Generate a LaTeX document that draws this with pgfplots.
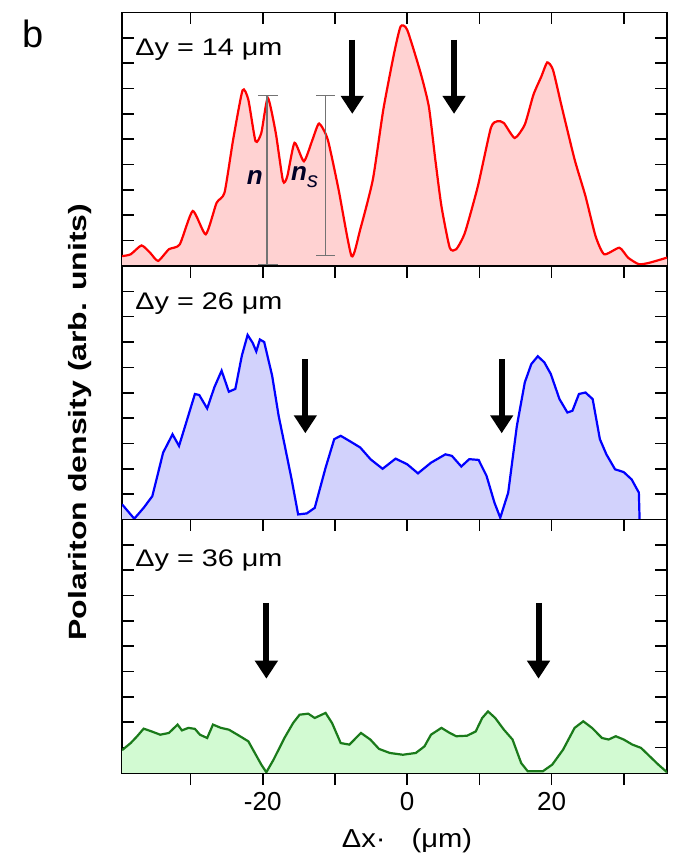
\documentclass[border=0pt]{standalone}
\usepackage{pgfplots}
\pgfplotsset{compat=1.18}
\usepackage{pgfplotstable}
\usepackage{fontspec}
\setmainfont{Liberation Sans}
\usetikzlibrary{arrows.meta}

\definecolor{pinkfill}{RGB}{255,210,210}
\definecolor{bluefill}{RGB}{210,210,252}
\definecolor{greenfill}{RGB}{210,250,210}
\definecolor{darkgreen}{RGB}{26,122,26}

\pgfplotstableread{
x y
-39.5 0.39
-38.3 0.46
-36.8 0.81
-35.6 0.52
-34.5 0.20
-33.0 0.66
-31.5 0.85
-29.7 2.17
-27.9 1.25
-26.4 2.49
-25.3 2.89
-24.1 4.99
-22.8 6.93
-22.0 6.56
-21.0 4.92
-20.2 5.25
-19.3 6.63
-18.2 5.25
-17.2 3.35
-16.6 3.54
-15.6 4.86
-14.3 4.13
-13.1 4.99
-12.2 5.62
-11.0 4.99
-9.5 3.02
-7.7 0.39
-6.5 1.44
-4.75 3.41
-3.3 6.17
-1.8 8.40
-0.9 9.45
0.0 9.32
1.8 7.68
3.0 6.30
3.9 4.20
4.75 2.36
5.9 0.72
6.8 0.66
8.0 1.31
9.8 3.15
11.6 5.45
12.5 5.71
13.4 5.64
14.9 5.05
16.3 5.58
17.5 6.76
18.6 7.48
19.4 8.03
20.2 7.74
21.4 6.30
23.2 4.20
24.7 2.76
26.1 1.18
27.3 0.46
29.4 0.72
30.6 0.33
32.1 0.07
33.6 0.13
36.0 0.33
}\redData

\pgfplotstableread{
x y
-39.5 0.60
-37.8 0.03
-36.5 0.46
-35.3 0.92
-33.8 2.64
-32.5 3.36
-31.6 2.90
-30.6 3.83
-29.4 4.95
-28.8 4.91
-27.7 4.38
-26.7 5.22
-25.7 5.87
-24.7 5.04
-23.8 5.15
-22.9 6.46
-22.1 7.28
-21.4 6.97
-20.9 6.63
-20.4 7.10
-19.8 7.00
-18.7 5.67
-17.8 4.09
-16.9 2.84
-16.0 1.58
-15.1 0.20
-13.9 0.24
-12.8 0.46
-11.3 2.04
-10.1 3.17
-9.2 3.30
-8.0 3.10
-6.5 2.84
-5.05 2.37
-3.4 2.00
-1.6 2.40
0.0 2.18
1.5 1.82
3.3 2.24
5.3 2.57
6.2 2.51
7.5 2.09
8.6 2.38
9.9 2.35
11.0 1.72
12.1 0.66
12.9 0.07
14.0 1.06
15.2 3.69
16.3 5.41
17.2 6.13
18.1 6.44
19.0 6.20
19.9 5.74
21.1 4.75
22.2 4.22
22.9 4.29
23.8 4.95
24.7 5.01
25.7 4.75
26.7 3.17
27.6 2.57
28.8 1.98
30.0 1.87
31.1 1.58
32.1 1.06
32.2 0.00
}\blueData

\pgfplotstableread{
x y
-39.5 0.90
-38.3 1.18
-37.4 1.45
-36.5 1.75
-35.4 1.64
-34.2 1.51
-33.0 1.58
-31.8 1.91
-31.2 1.68
-30.3 1.78
-29.4 1.74
-28.7 1.51
-27.7 1.38
-26.9 1.91
-25.8 1.78
-24.7 1.71
-23.5 1.51
-22.0 1.25
-21.1 0.79
-20.2 0.33
-19.5 0.03
-18.5 0.53
-17.0 1.38
-15.8 1.97
-14.9 2.30
-13.7 2.34
-12.8 2.17
-11.3 2.37
-10.4 1.97
-9.2 1.18
-8.0 1.12
-6.4 1.58
-5.1 1.32
-3.9 0.95
-2.4 0.79
-0.6 0.72
1.2 0.79
2.4 1.05
3.3 1.51
4.75 1.78
5.9 1.58
6.8 1.45
8.3 1.47
9.5 1.64
10.4 2.17
11.2 2.43
12.2 2.17
13.4 1.71
14.6 1.32
15.8 0.39
16.7 0.07
18.8 0.07
20.1 0.33
21.6 0.92
23.2 1.78
24.4 2.04
25.6 1.78
27.0 1.38
27.9 1.32
28.9 1.45
30.0 1.32
31.2 1.12
32.4 0.99
33.6 0.66
34.8 0.33
36.0 0.03
}\greenData

\pgfplotsset{
  panel/.style={
    scale only axis, width=272.5pt, height=126.75pt,
    anchor=south west,
    xmin=-39.5, xmax=36, ymin=0, ymax=10,
    xtick={-30,-20,...,30}, ytick={1,2,...,9},
    xticklabels={}, yticklabels={},
    tick align=inside, xtick pos=right,
    major tick length=6pt,
    axis line style={line width=0.8pt},
    tick style={line width=0.8pt, black},
    clip=true,
  },
}
\tikzset{
  myarrow/.style={line width=3pt, -{Triangle[width=11pt,length=9pt]}},
  errbar/.style={line width=0.8pt, black!55},
}

\newcommand{\lbl}{\fontsize{12}{14}\selectfont}
\newcommand{\dy}[1]{\scalebox{1.2}[1]{Δy = #1 μm}}

\begin{document}
\begin{tikzpicture}[x=1pt,y=1pt]
% panel 1
\begin{axis}[panel, at={(61pt,294pt)}]
  \addplot[draw=none, fill=pinkfill, forget plot, smooth, tension=0.35] table {\redData} \closedcycle;
  \addplot[red, line width=1.1pt, smooth, tension=0.35] table {\redData};
  \draw[errbar] (axis cs:-19.4,0) -- (axis cs:-19.4,6.72);
  \draw[errbar] (axis cs:-20.6,6.72) -- (axis cs:-17.9,6.72);
  \draw[errbar] (axis cs:-20.6,0.05) -- (axis cs:-17.9,0.05);
  \draw[errbar] (axis cs:-11.3,0.42) -- (axis cs:-11.3,6.72);
  \draw[errbar] (axis cs:-12.6,6.72) -- (axis cs:-10.0,6.72);
  \draw[errbar] (axis cs:-12.6,0.42) -- (axis cs:-10.0,0.42);
  \node[font=\fontsize{13}{14}\selectfont\bfseries\itshape, text=black!85!blue] at (axis cs:-21.1,3.5) {n};
  \node[font=\fontsize{13}{14}\selectfont\bfseries\itshape, text=black!85!blue] at (axis cs:-14.2,3.5) {n\raisebox{-0.5ex}{\fontsize{11}{11}\selectfont\mdseries s}};
  \draw[myarrow] (axis cs:-7.6,8.92) -- (axis cs:-7.6,6.0);
  \draw[myarrow] (axis cs:6.5,8.92) -- (axis cs:6.5,6.0);
  \node[anchor=base west, font=\lbl, inner sep=0pt] at (axis cs:-37.7,8.32) {\dy{14}};
\end{axis}
% panel 2
\begin{axis}[panel, at={(61pt,167.25pt)}]
  \addplot[draw=none, fill=bluefill, forget plot] table {\blueData} \closedcycle;
  \addplot[blue, line width=1.1pt] table {\blueData};
  \draw[myarrow] (axis cs:-14.1,6.33) -- (axis cs:-14.1,3.4);
  \draw[myarrow] (axis cs:13.1,6.33) -- (axis cs:13.1,3.4);
  \node[anchor=base west, font=\lbl, inner sep=0pt] at (axis cs:-37.7,8.3) {\dy{26}};
\end{axis}
% panel 3
\begin{axis}[panel, at={(61pt,40.5pt)}]
  \addplot[draw=none, fill=greenfill, forget plot] table {\greenData} \closedcycle;
  \addplot[darkgreen, line width=1.1pt] table {\greenData};
  \draw[myarrow] (axis cs:-19.5,6.71) -- (axis cs:-19.5,3.72);
  \draw[myarrow] (axis cs:18.2,6.71) -- (axis cs:18.2,3.72);
  \node[anchor=base west, font=\lbl, inner sep=0pt] at (axis cs:-37.7,8.15) {\dy{36}};
\end{axis}
% bottom ticks and labels
\begin{axis}[scale only axis, width=272.5pt, height=126.75pt,
    anchor=south west, at={(61pt,40.5pt)},
    xmin=-39.5, xmax=36, ymin=0, ymax=10,
    axis x line*=bottom, axis y line=none,
    tick align=outside, major tick length=6pt,
    xtick={-30,-20,...,30},
    xticklabels={,-20,,0,,20,},
    tick style={line width=0.8pt, black},
    axis line style={draw=none},
    x tick label style={font=\fontsize{13}{14}\selectfont, /pgf/number format/assume math mode=true},
    ytick=\empty]
  \addplot[draw=none] coordinates {(0,0)};
\end{axis}
\node[font=\fontsize{13}{15}\selectfont] at (203.5pt,6.5pt) {\scalebox{1.12}[1]{Δx·\hspace{0.9em}(μm)}};
\node[rotate=90, font=\bfseries\fontsize{16}{16}\selectfont] at (40pt,216pt) {\scalebox{1}[0.78]{Polariton density (arb. units)}};
\node[font=\fontsize{19}{19}\selectfont] at (16.5pt,410pt) {b};
\pgfresetboundingbox
\path (0,0) rectangle (338pt,427pt);
\end{tikzpicture}
\end{document}
